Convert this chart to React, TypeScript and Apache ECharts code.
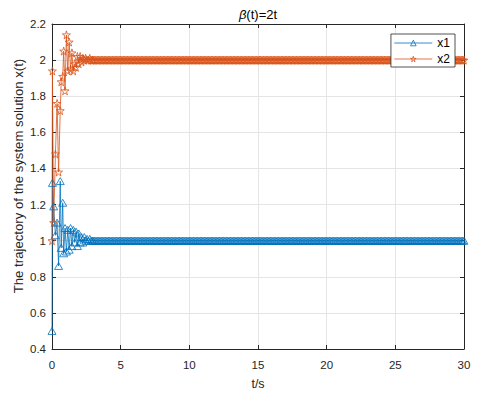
import React, { useEffect, useRef } from "react";
import * as echarts from "echarts";

// Early (transient) part: time stamps and values
const tEarly = [0, 0.03, 0.12, 0.25, 0.37, 0.48, 0.6, 0.67, 0.78, 0.85, 0.95, 1.05, 1.15, 1.25, 1.35, 1.45, 1.55, 1.65, 1.75, 1.85, 1.95, 2.05, 2.15, 2.25, 2.35, 2.45, 2.55, 2.65, 2.75, 2.85, 2.95];
const x1Early = [0.5, 1.32, 1.19, 1.03, 1.1, 0.86, 1.33, 0.96, 1.21, 0.93, 1.07, 0.94, 1.06, 0.95, 1.07, 0.97, 1.06, 0.99, 1.05, 0.97, 1.04, 0.99, 1.02, 0.99, 1.02, 1.0, 1.01, 1.0, 1.01, 1.0, 1.0];
const x2Early = [1.0, 1.94, 1.1, 1.48, 1.76, 1.38, 1.72, 1.88, 1.91, 2.05, 1.83, 2.14, 1.94, 2.1, 1.95, 2.04, 1.94, 1.98, 1.96, 2.02, 1.98, 2.02, 1.99, 2.01, 2.0, 2.01, 2.0, 2.0, 2.01, 2.0, 2.0];

// Steady part
const tLate = [
  3, 3.1, 3.2, 3.3, 3.4, 3.5, 3.6, 3.7, 3.8, 3.9,
  4, 4.1, 4.2, 4.3, 4.4, 4.5, 4.6, 4.7, 4.8, 4.9,
  5, 5.1, 5.2, 5.3, 5.4, 5.5, 5.6, 5.7, 5.8, 5.9,
  6, 6.1, 6.2, 6.3, 6.4, 6.5, 6.6, 6.7, 6.8, 6.9,
  7, 7.1, 7.2, 7.3, 7.4, 7.5, 7.6, 7.7, 7.8, 7.9,
  8, 8.1, 8.2, 8.3, 8.4, 8.5, 8.6, 8.7, 8.8, 8.9,
  9, 9.1, 9.2, 9.3, 9.4, 9.5, 9.6, 9.7, 9.8, 9.9,
  10, 10.1, 10.2, 10.3, 10.4, 10.5, 10.6, 10.7, 10.8, 10.9,
  11, 11.1, 11.2, 11.3, 11.4, 11.5, 11.6, 11.7, 11.8, 11.9,
  12, 12.1, 12.2, 12.3, 12.4, 12.5, 12.6, 12.7, 12.8, 12.9,
  13, 13.1, 13.2, 13.3, 13.4, 13.5, 13.6, 13.7, 13.8, 13.9,
  14, 14.1, 14.2, 14.3, 14.4, 14.5, 14.6, 14.7, 14.8, 14.9,
  15, 15.1, 15.2, 15.3, 15.4, 15.5, 15.6, 15.7, 15.8, 15.9,
  16, 16.1, 16.2, 16.3, 16.4, 16.5, 16.6, 16.7, 16.8, 16.9,
  17, 17.1, 17.2, 17.3, 17.4, 17.5, 17.6, 17.7, 17.8, 17.9,
  18, 18.1, 18.2, 18.3, 18.4, 18.5, 18.6, 18.7, 18.8, 18.9,
  19, 19.1, 19.2, 19.3, 19.4, 19.5, 19.6, 19.7, 19.8, 19.9,
  20, 20.1, 20.2, 20.3, 20.4, 20.5, 20.6, 20.7, 20.8, 20.9,
  21, 21.1, 21.2, 21.3, 21.4, 21.5, 21.6, 21.7, 21.8, 21.9,
  22, 22.1, 22.2, 22.3, 22.4, 22.5, 22.6, 22.7, 22.8, 22.9,
  23, 23.1, 23.2, 23.3, 23.4, 23.5, 23.6, 23.7, 23.8, 23.9,
  24, 24.1, 24.2, 24.3, 24.4, 24.5, 24.6, 24.7, 24.8, 24.9,
  25, 25.1, 25.2, 25.3, 25.4, 25.5, 25.6, 25.7, 25.8, 25.9,
  26, 26.1, 26.2, 26.3, 26.4, 26.5, 26.6, 26.7, 26.8, 26.9,
  27, 27.1, 27.2, 27.3, 27.4, 27.5, 27.6, 27.7, 27.8, 27.9,
  28, 28.1, 28.2, 28.3, 28.4, 28.5, 28.6, 28.7, 28.8, 28.9,
  29, 29.1, 29.2, 29.3, 29.4, 29.5, 29.6, 29.7, 29.8, 29.9,
  30,
];
const x1Late = [
  1, 1, 1, 1, 1, 1, 1, 1, 1, 1,
  1, 1, 1, 1, 1, 1, 1, 1, 1, 1,
  1, 1, 1, 1, 1, 1, 1, 1, 1, 1,
  1, 1, 1, 1, 1, 1, 1, 1, 1, 1,
  1, 1, 1, 1, 1, 1, 1, 1, 1, 1,
  1, 1, 1, 1, 1, 1, 1, 1, 1, 1,
  1, 1, 1, 1, 1, 1, 1, 1, 1, 1,
  1, 1, 1, 1, 1, 1, 1, 1, 1, 1,
  1, 1, 1, 1, 1, 1, 1, 1, 1, 1,
  1, 1, 1, 1, 1, 1, 1, 1, 1, 1,
  1, 1, 1, 1, 1, 1, 1, 1, 1, 1,
  1, 1, 1, 1, 1, 1, 1, 1, 1, 1,
  1, 1, 1, 1, 1, 1, 1, 1, 1, 1,
  1, 1, 1, 1, 1, 1, 1, 1, 1, 1,
  1, 1, 1, 1, 1, 1, 1, 1, 1, 1,
  1, 1, 1, 1, 1, 1, 1, 1, 1, 1,
  1, 1, 1, 1, 1, 1, 1, 1, 1, 1,
  1, 1, 1, 1, 1, 1, 1, 1, 1, 1,
  1, 1, 1, 1, 1, 1, 1, 1, 1, 1,
  1, 1, 1, 1, 1, 1, 1, 1, 1, 1,
  1, 1, 1, 1, 1, 1, 1, 1, 1, 1,
  1, 1, 1, 1, 1, 1, 1, 1, 1, 1,
  1, 1, 1, 1, 1, 1, 1, 1, 1, 1,
  1, 1, 1, 1, 1, 1, 1, 1, 1, 1,
  1, 1, 1, 1, 1, 1, 1, 1, 1, 1,
  1, 1, 1, 1, 1, 1, 1, 1, 1, 1,
  1, 1, 1, 1, 1, 1, 1, 1, 1, 1,
  1,
];
const x2Late = [
  2, 2, 2, 2, 2, 2, 2, 2, 2, 2,
  2, 2, 2, 2, 2, 2, 2, 2, 2, 2,
  2, 2, 2, 2, 2, 2, 2, 2, 2, 2,
  2, 2, 2, 2, 2, 2, 2, 2, 2, 2,
  2, 2, 2, 2, 2, 2, 2, 2, 2, 2,
  2, 2, 2, 2, 2, 2, 2, 2, 2, 2,
  2, 2, 2, 2, 2, 2, 2, 2, 2, 2,
  2, 2, 2, 2, 2, 2, 2, 2, 2, 2,
  2, 2, 2, 2, 2, 2, 2, 2, 2, 2,
  2, 2, 2, 2, 2, 2, 2, 2, 2, 2,
  2, 2, 2, 2, 2, 2, 2, 2, 2, 2,
  2, 2, 2, 2, 2, 2, 2, 2, 2, 2,
  2, 2, 2, 2, 2, 2, 2, 2, 2, 2,
  2, 2, 2, 2, 2, 2, 2, 2, 2, 2,
  2, 2, 2, 2, 2, 2, 2, 2, 2, 2,
  2, 2, 2, 2, 2, 2, 2, 2, 2, 2,
  2, 2, 2, 2, 2, 2, 2, 2, 2, 2,
  2, 2, 2, 2, 2, 2, 2, 2, 2, 2,
  2, 2, 2, 2, 2, 2, 2, 2, 2, 2,
  2, 2, 2, 2, 2, 2, 2, 2, 2, 2,
  2, 2, 2, 2, 2, 2, 2, 2, 2, 2,
  2, 2, 2, 2, 2, 2, 2, 2, 2, 2,
  2, 2, 2, 2, 2, 2, 2, 2, 2, 2,
  2, 2, 2, 2, 2, 2, 2, 2, 2, 2,
  2, 2, 2, 2, 2, 2, 2, 2, 2, 2,
  2, 2, 2, 2, 2, 2, 2, 2, 2, 2,
  2, 2, 2, 2, 2, 2, 2, 2, 2, 2,
  2,
];

const seriesNames = ["x1", "x2"];
const titleText = "(t)=2t";
const xName = "t/s";
const yName = "The trajectory of the system solution x(t)";

const BLUE = "#0072BD";
const ORANGE = "#D95319";
const AX = "#262626";
const FONT = "'Liberation Sans', Arial, Helvetica, sans-serif";

const TRI = "path://M0,-10 L8.66,5 L-8.66,5 Z";
const STAR = "path://M50,0 L61,35 L98,35 L68,57 L79,91 L50,70 L21,91 L32,57 L2,35 L39,35 Z";

export default function App() {
  const ref = useRef<HTMLDivElement>(null);
  useEffect(() => {
    const chart = echarts.init(ref.current as HTMLDivElement, null, { renderer: "svg" });
    const t = tEarly.concat(tLate);
    const x1 = x1Early.concat(x1Late);
    const x2 = x2Early.concat(x2Late);
    const d1 = t.map((v, i) => [v, x1[i]]);
    const d2 = t.map((v, i) => [v, x2[i]]);
    const fmt = (v: number) => String(Number(v.toFixed(1)));
    const grid = { left: 52, right: 20, top: 24, bottom: 46, show: false };
    const xBase = {
      type: "value",
      min: 0,
      max: 30,
      interval: 5,
      axisLine: { show: true, onZero: false, lineStyle: { color: AX, width: 1 } },
      axisTick: { show: true, inside: true, length: 4, lineStyle: { color: AX } },
    };
    const yBase = {
      type: "value",
      min: 0.4,
      max: 2.2,
      interval: 0.2,
      axisLine: { show: true, onZero: false, lineStyle: { color: AX, width: 1 } },
      axisTick: { show: true, inside: true, length: 4, lineStyle: { color: AX } },
    };
    chart.setOption({
      animation: false,
      backgroundColor: "#fff",
      grid,
      graphic: [
        {
          type: "text",
          x: 258,
          y: 14,
          style: {
            text: "{b|β}" + titleText,
            rich: { b: { fontStyle: "italic", fontSize: 13, fontFamily: FONT, fill: "#000" } },
            fontSize: 13,
            fontFamily: FONT,
            fill: "#000",
            align: "center",
            verticalAlign: "middle",
          },
        },
        {
          type: "text",
          x: 18,
          y: 176,
          rotation: Math.PI / 2,
          style: {
            text: yName,
            fontSize: 13.2,
            fontFamily: FONT,
            fill: AX,
            align: "center",
            verticalAlign: "middle",
          },
        },
      ],
      legend: {
        data: [
          {
            name: seriesNames[0],
            itemStyle: { color: "rgba(0,0,0,0)", borderColor: BLUE, borderWidth: 0.8 },
            lineStyle: { color: BLUE, width: 0.8 },
          },
          {
            name: seriesNames[1],
            itemStyle: { color: "rgba(0,0,0,0)", borderColor: ORANGE, borderWidth: 0.8 },
            lineStyle: { color: ORANGE, width: 0.8 },
          },
        ],
        orient: "vertical",
        right: 29,
        top: 34,
        backgroundColor: "#fff",
        borderColor: AX,
        borderWidth: 0.8,
        borderRadius: 0,
        padding: [3, 5, 2, 3],
        itemWidth: 38,
        itemHeight: 7,
        itemGap: 4,
        textStyle: { fontSize: 12, color: "#000", fontFamily: FONT },
      },
      xAxis: [
        {
          ...xBase,
          position: "bottom",
          name: xName,
          nameLocation: "middle",
          nameGap: 28,
          nameTextStyle: { fontSize: 12.5, color: AX, fontFamily: FONT },
          axisLabel: { color: AX, fontSize: 11.5, margin: 10, fontFamily: FONT },
          splitLine: { show: true, lineStyle: { color: "#e5e5e5", width: 1 } },
        },
        {
          ...xBase,
          position: "top",
          axisLabel: { show: false },
          splitLine: { show: false },
        },
      ],
      yAxis: [
        {
          ...yBase,
          position: "left",
          axisLabel: { color: AX, fontSize: 11.5, margin: 6, fontFamily: FONT, formatter: fmt },
          splitLine: { show: true, lineStyle: { color: "#e5e5e5", width: 1 } },
        },
        {
          ...yBase,
          position: "right",
          axisLabel: { show: false },
          splitLine: { show: false },
        },
      ],
      series: [
        {
          name: seriesNames[0],
          type: "line",
          xAxisIndex: 0,
          yAxisIndex: 0,
          data: d1,
          showAllSymbol: true,
          symbol: TRI,
          symbolSize: [8, 7],
          symbolKeepAspect: false,
          lineStyle: { color: BLUE, width: 0.8 },
          itemStyle: { color: "rgba(0,0,0,0)", borderColor: BLUE, borderWidth: 0.8 },
          emphasis: { disabled: true },
        },
        {
          name: seriesNames[1],
          type: "line",
          xAxisIndex: 0,
          yAxisIndex: 0,
          data: d2,
          showAllSymbol: true,
          symbol: STAR,
          symbolSize: 8,
          lineStyle: { color: ORANGE, width: 0.8 },
          itemStyle: { color: "rgba(0,0,0,0)", borderColor: ORANGE, borderWidth: 0.8 },
          emphasis: { disabled: true },
        },
      ],
    });
    return () => chart.dispose();
  }, []);
  return <div ref={ref} style={{ position: "absolute", left: 0, top: 0, width: 484, height: 395 }} />;
}
